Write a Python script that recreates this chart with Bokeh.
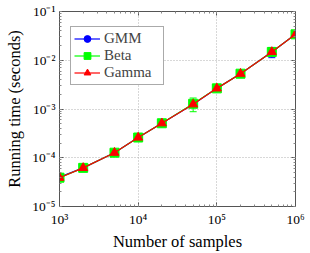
import math
from bokeh.plotting import figure
from bokeh.models import (LogAxis, LogTicker, CustomJSTickFormatter, Whisker,
                          ColumnDataSource, TeeHead, Range1d)
from bokeh.embed import file_html
from bokeh.resources import INLINE

# ---- data ----
n_samples = [1000, 2000, 5000, 10000, 20000, 50000, 100000, 200000, 500000, 1000000]
gmm_time = [4.0e-5, 6.2e-5, 1.27e-4, 2.6e-4, 5.1e-4, 1.25e-3, 2.65e-3, 5.3e-3, 1.48e-2, 3.4e-2]
gmm_err = [0.6e-5, 0.3e-5, 0.6e-5, 1.0e-5, 2.0e-5, 0.12e-3, 0.08e-3, 0.15e-3, 0.35e-2, 0.1e-2]
beta_time = [3.9e-5, 6.2e-5, 1.27e-4, 2.6e-4, 5.1e-4, 1.28e-3, 2.65e-3, 5.3e-3, 1.48e-2, 3.4e-2]
beta_err = [0.3e-5, 0.2e-5, 0.5e-5, 0.8e-5, 1.5e-5, 0.4e-3, 0.08e-3, 0.15e-3, 0.1e-2, 0.1e-2]
gamma_time = [3.9e-5, 6.2e-5, 1.27e-4, 2.6e-4, 5.1e-4, 1.25e-3, 2.65e-3, 5.3e-3, 1.48e-2, 3.4e-2]
gamma_err = [0.3e-5, 0.2e-5, 0.5e-5, 0.8e-5, 1.5e-5, 0.06e-3, 0.08e-3, 0.15e-3, 0.1e-2, 0.1e-2]

series_names = ["GMM", "Beta", "Gamma"]
x_ticks = [1e3, 1e4, 1e5, 1e6]
x_tick_labels = ["10³", "10⁴", "10⁵", "10⁶"]
y_ticks = [1e-5, 1e-4, 1e-3, 1e-2, 1e-1]
y_tick_labels = ["10⁻⁵", "10⁻⁴", "10⁻³", "10⁻²", "10⁻¹"]
x_title = "Number of samples"
y_title = "Running time (seconds)"

FONT = "Liberation Serif"
AXIS_COL = "#555555"

p = figure(width=310, height=253, x_axis_type="log", y_axis_type="log",
           x_range=Range1d(x_ticks[0], x_ticks[-1]), y_range=Range1d(y_ticks[0], y_ticks[-1]),
           output_backend="svg", toolbar_location=None,
           min_border_left=59, min_border_right=15, min_border_top=11, min_border_bottom=46)
p.outline_line_color = AXIS_COL
p.background_fill_color = "white"
p.border_fill_color = "white"

fmt_code = """
const e = Math.round(Math.log10(tick));
for (let i = 0; i < tvals.length; i++) {
  if (Math.round(Math.log10(tvals[i])) == e) return tlabels[i];
}
return '';
"""
xfmt = CustomJSTickFormatter(args=dict(tvals=x_ticks, tlabels=x_tick_labels), code=fmt_code)
yfmt = CustomJSTickFormatter(args=dict(tvals=y_ticks, tlabels=y_tick_labels), code=fmt_code)

def style_axis(ax):
    ax.ticker = LogTicker(num_minor_ticks=10)
    ax.axis_line_color = AXIS_COL
    ax.major_tick_line_color = AXIS_COL
    ax.minor_tick_line_color = "#888888"
    ax.major_tick_in = 4
    ax.major_tick_out = 0
    ax.minor_tick_in = 2
    ax.minor_tick_out = 0
    ax.major_label_text_font = FONT
    ax.major_label_text_font_size = "13.5px"
    ax.major_label_text_color = "black"
    ax.major_label_text_line_height = 1.0
    ax.axis_label_text_font = FONT
    ax.axis_label_text_font_size = "16.5px"
    ax.axis_label_text_font_style = "normal"
    ax.axis_label_text_color = "black"
    ax.axis_label_text_line_height = 1.0

xa = p.xaxis[0]
style_axis(xa)
xa.formatter = xfmt
xa.major_label_standoff = 5
xa.axis_label = x_title
xa.axis_label_standoff = 2

ya = p.yaxis[0]
style_axis(ya)
ya.formatter = yfmt
ya.major_label_standoff = 4
ya.axis_label = y_title
ya.axis_label_standoff = 5

# mirrored tick axes (top / right), no labels
for loc in ("above", "right"):
    ax = LogAxis()
    style_axis(ax)
    ax.major_label_text_font_size = "1px"
    ax.major_label_standoff = 0
    ax.formatter = CustomJSTickFormatter(code="return ''")
    p.add_layout(ax, loc)

p.grid.grid_line_color = "#b0b0b0"
p.grid.grid_line_dash = "1 2"
p.grid.grid_line_width = 1
p.grid.minor_grid_line_color = None

colors = ["#0000ff", "#00ff00", "#ff0000"]
markers = ["circle", "square", "triangle"]
sizes = [7, 9, 9]
times = [gmm_time, beta_time, gamma_time]
errs = [gmm_err, beta_err, gamma_err]

for name, col, mk, sz, t, e in zip(series_names, colors, markers, sizes, times, errs):
    src = ColumnDataSource(dict(x=n_samples, y=t,
                                lo=[a - b for a, b in zip(t, e)],
                                hi=[a + b for a, b in zip(t, e)]))
    w = Whisker(source=src, base="x", lower="lo", upper="hi", line_color=col, line_width=1,
                upper_head=TeeHead(size=7, line_color=col, line_width=1),
                lower_head=TeeHead(size=7, line_color=col, line_width=1))
    p.add_layout(w)
    p.line("x", "y", source=src, line_color=col, line_width=1.2, legend_label=name)
    p.scatter("x", "y", source=src, marker=mk, size=sz, fill_color=col, line_color=col,
              legend_label=name)

lg = p.legend[0]
lg.location = (11, 121)
lg.margin = 0
lg.border_line_color = "#555555"
lg.border_line_width = 1
lg.background_fill_alpha = 1
lg.label_text_font = FONT
lg.label_text_font_size = "15px"
lg.label_text_line_height = 1.0
lg.glyph_width = 26
lg.glyph_height = 17
lg.label_height = 17
lg.label_width = 56
lg.spacing = 0
lg.padding = 3
lg.label_standoff = 4

open("out.html", "w").write(file_html(p, INLINE))
